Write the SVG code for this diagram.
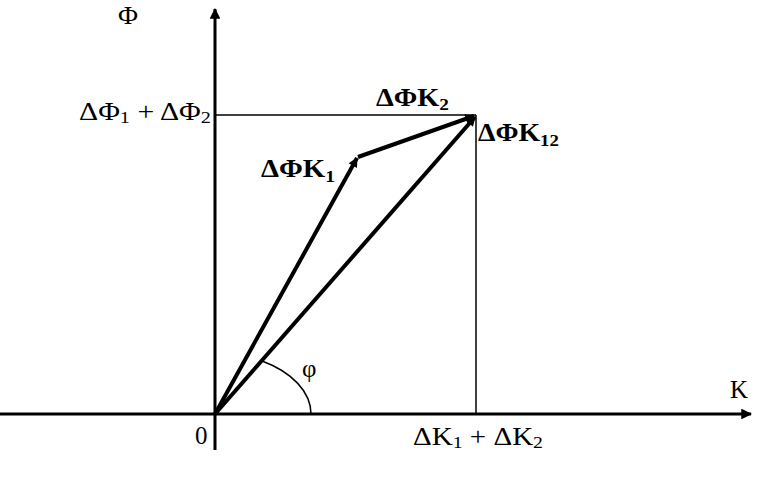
<svg xmlns="http://www.w3.org/2000/svg" width="763" height="482" viewBox="0 0 763 482">
<defs>
<style>
text{font-family:'Liberation Serif','Times New Roman',serif;font-size:25px;fill:#000}
.b{font-weight:bold}
.s{font-size:17px}
.axis{stroke:#000;stroke-width:3;fill:none}
.vec{stroke:#000;stroke-width:4;fill:none}
.thin{stroke:#000;stroke-width:1.5;fill:none}
</style>
<marker id="ah" viewBox="0 0 10 10" refX="9" refY="5" markerWidth="5" markerHeight="3.6" markerUnits="strokeWidth" orient="auto">
<path d="M0,0 L10,5 L0,10 z" fill="#000"/>
</marker>
<marker id="av" viewBox="0 0 10 10" refX="9" refY="5" markerWidth="3.2" markerHeight="2.4" markerUnits="strokeWidth" orient="auto">
<path d="M0,0 L10,5 L0,10 z" fill="#000"/>
</marker>
</defs>
<rect width="763" height="482" fill="#fff"/>
<g id="connectors">
<line class="axis" x1="0" y1="414" x2="751" y2="414" marker-end="url(#ah)"/>
<line class="axis" x1="215" y1="450" x2="215" y2="9" marker-end="url(#ah)"/>
<line class="thin" x1="215" y1="115" x2="476" y2="115"/>
<line class="thin" x1="476" y1="115" x2="476" y2="414"/>
<line class="vec" x1="215" y1="414" x2="357" y2="158" marker-end="url(#av)"/>
<line class="vec" x1="358" y1="157" x2="474" y2="116" marker-end="url(#av)"/>
<line class="vec" x1="215" y1="414" x2="475" y2="117" marker-end="url(#av)"/>
<path class="thin" d="M262,361 C292,372 311,392 311,414"/>
</g>
<g id="labels">
<text x="118" y="24" textLength="20" lengthAdjust="spacingAndGlyphs">Φ</text>
<text x="79" y="120" textLength="132" lengthAdjust="spacingAndGlyphs">ΔΦ<tspan class="s" dy="3">1</tspan><tspan dy="-3"> + ΔΦ</tspan><tspan class="s" dy="3">2</tspan></text>
<text class="b" x="376" y="106" textLength="73" lengthAdjust="spacingAndGlyphs">ΔΦK<tspan class="s" dy="4">2</tspan></text>
<text class="b" x="478" y="141" textLength="81" lengthAdjust="spacingAndGlyphs">ΔΦK<tspan class="s" dy="5">12</tspan></text>
<text class="b" x="261" y="177" textLength="74" lengthAdjust="spacingAndGlyphs">ΔΦK<tspan class="s" dy="5">1</tspan></text>
<text x="302" y="377">φ</text>
<text x="195" y="444">0</text>
<text x="730" y="398">K</text>
<text x="413" y="445" textLength="130" lengthAdjust="spacingAndGlyphs">ΔK<tspan class="s" dy="3">1</tspan><tspan dy="-3"> + ΔK</tspan><tspan class="s" dy="3">2</tspan></text>
</g>
</svg>
